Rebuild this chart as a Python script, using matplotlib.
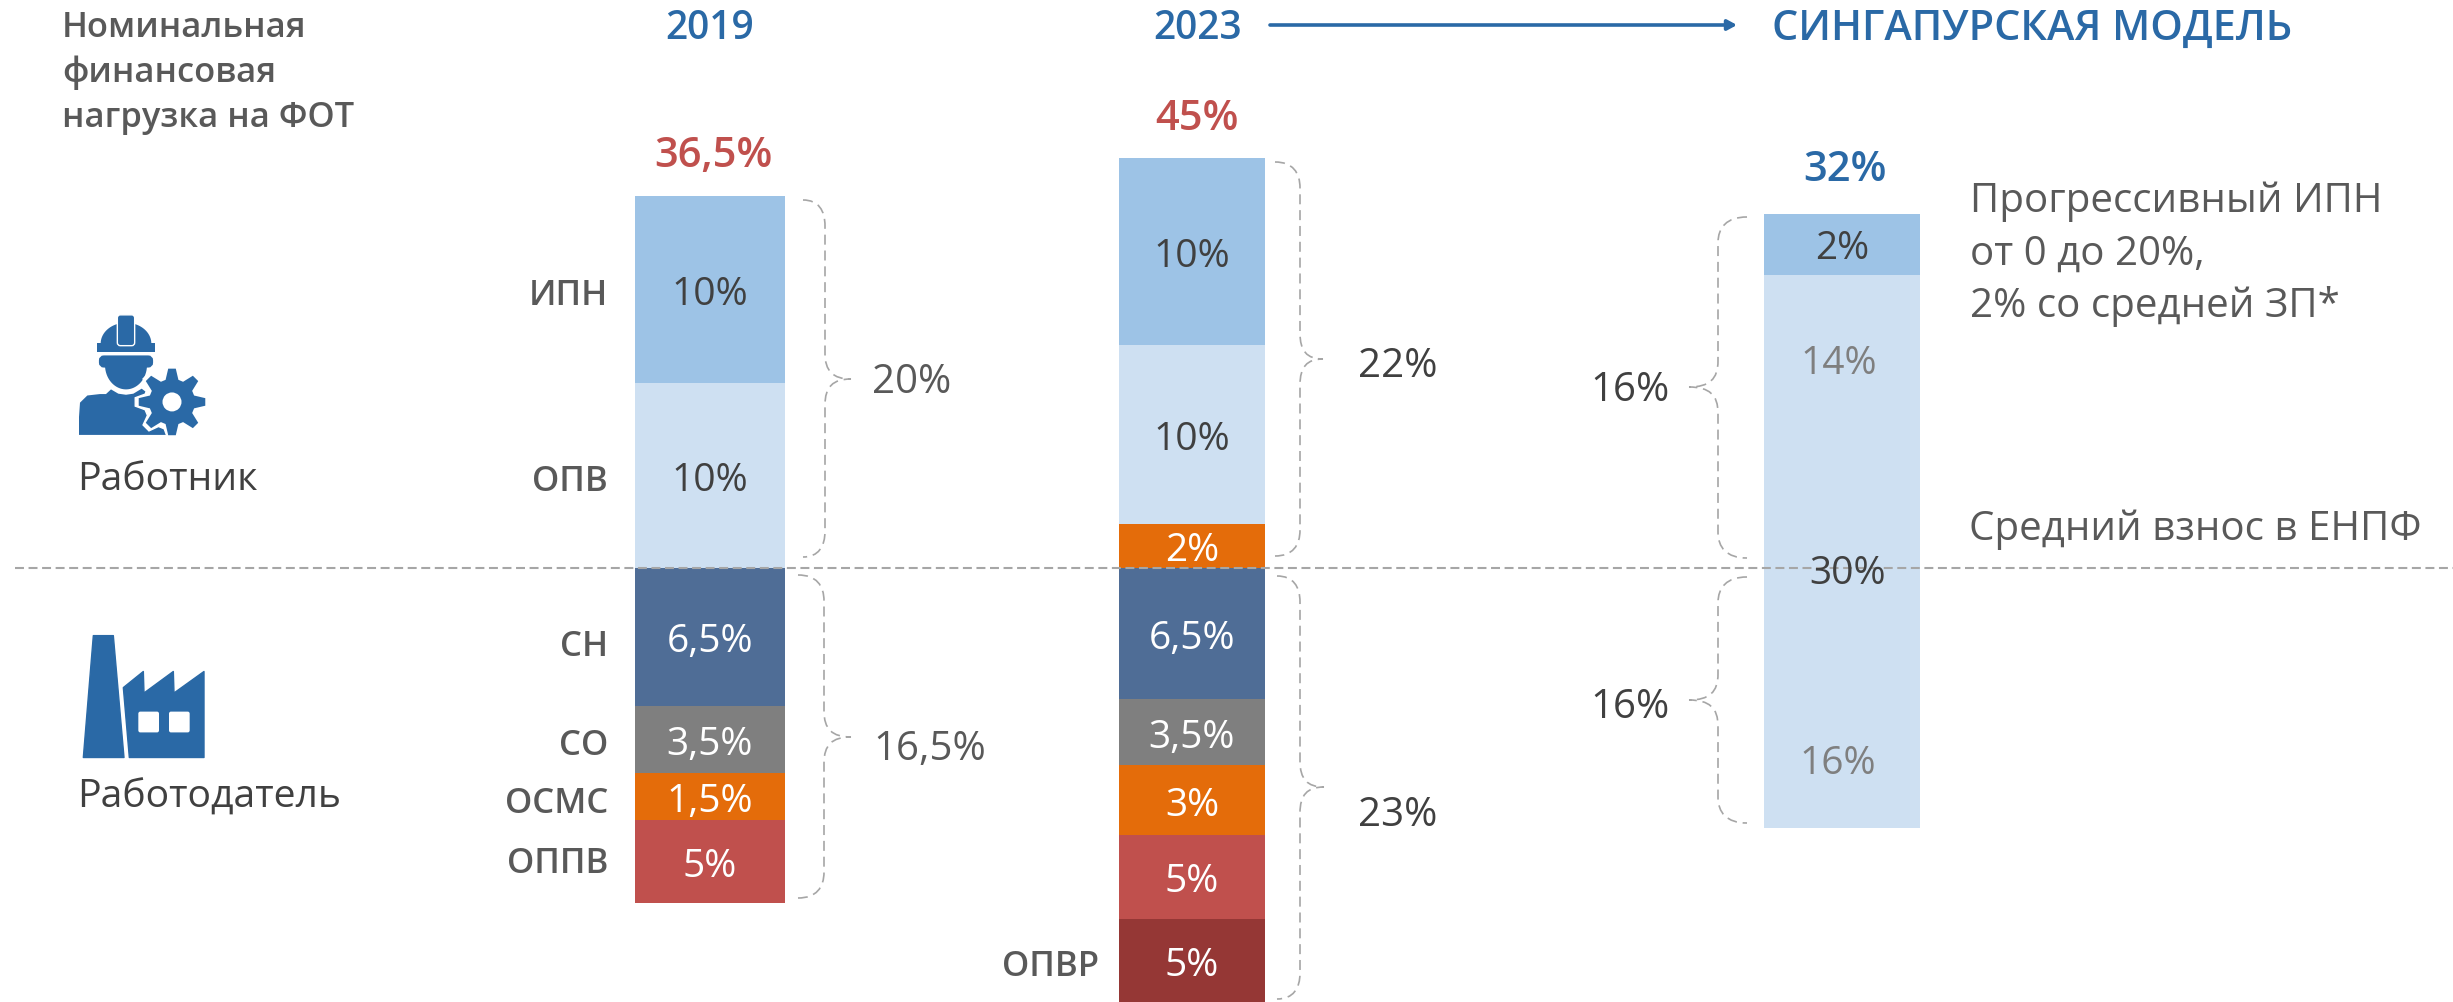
import numpy as np
import matplotlib
matplotlib.use('Agg')
import matplotlib.pyplot as plt
from matplotlib.path import Path
from matplotlib.patches import PathPatch, Polygon, Circle, Rectangle, FancyBboxPatch

plt.rcParams['font.family'] = ['Open Sans', 'DejaVu Sans']

# drawn segment heights, top to bottom (the slide is not to scale, so they differ from the labels)
h_2019 = [10.0, 9.88, 7.4, 3.57, 2.53, 4.42]
h_2023 = [10.0, 9.57, 2.33, 7.03, 3.53, 3.74, 4.49, 4.44]
h_sing = [3.26, 29.57]
# how much of each bar sits above the dashed line
upper_2019 = 10.0 + 9.88
upper_2023 = 10.0 + 9.57 + 2.33
upper_sing = 3.26 + 15.65

lab_2019 = ['10%', '10%', '6,5%', '3,5%', '1,5%', '5%']
lab_2023 = ['10%', '10%', '2%', '6,5%', '3,5%', '3%', '5%', '5%']
names_2019 = ['ИПН', 'ОПВ', 'СН', 'СО', 'ОСМС', 'ОППВ']

LIGHT = '#9DC3E6'
PALE = '#CEE0F2'
NAVY = '#4F6D96'
GREY = '#7F7F7F'
ORANGE = '#E46C0A'
RED = '#C0504D'
DARKRED = '#953735'
BLUE = '#2A69A6'
TXT = '#404040'
TXT2 = '#595959'
DASH = '#A6A6A6'

col_2019 = [LIGHT, PALE, NAVY, GREY, ORANGE, RED]
col_2023 = [LIGHT, PALE, ORANGE, NAVY, GREY, ORANGE, RED, DARKRED]
txt_2019 = [TXT, TXT, 'white', 'white', 'white', 'white']
txt_2023 = [TXT, TXT, 'white', 'white', 'white', 'white', 'white', 'white']

BASE_PX = 568.6
UNIT_PX = 18.7
W, H = 2453, 1003
VAL = 28
SUM = 29
NOTE = 29
HEAD = 28
TOTAL = 30
SIDE = 25

fig = plt.figure(figsize=(W / 100, H / 100), dpi=100)

# bars: y in chart units, 0 at the dashed line
ax = fig.add_axes([0, 0, 1, 1])
ax.set_xlim(0, W)
ax.set_ylim(-(H - BASE_PX) / UNIT_PX, BASE_PX / UNIT_PX)
ax.axis('off')

# everything else: plain pixel coordinates
ov = fig.add_axes([0, 0, 1, 1])
ov.set_xlim(0, W)
ov.set_ylim(H, 0)
ov.axis('off')
ov.patch.set_alpha(0)


def stack(xc, width, heights, colors, upper, labels=None, tcolors=None):
    top = upper
    for i in range(len(heights)):
        ax.bar(xc, heights[i], width=width, bottom=top - heights[i], color=colors[i], linewidth=0, zorder=2)
        if labels:
            ax.text(xc, top - heights[i] / 2 - 0.24, labels[i], color=tcolors[i], fontsize=VAL,
                    ha='center', va='center', zorder=5)
        top -= heights[i]


def brace(x0, xm, xt, y0, yt, y1):
    # curly bracket from (x0,y0) through the tip (xt,yt) to (x0,y1)
    dy = 26
    verts = [(x0, y0), (x0 + (xm - x0) * 0.7, y0), (xm, y0 + dy * 0.4), (xm, y0 + dy),
             (xm, yt - dy), (xm, yt - 8), (xm + (xt - xm) * 0.3, yt), (xt, yt),
             (xm + (xt - xm) * 0.3, yt), (xm, yt + 8), (xm, yt + dy),
             (xm, y1 - dy), (xm, y1 - dy * 0.4), (x0 + (xm - x0) * 0.7, y1), (x0, y1)]
    codes = [Path.MOVETO, Path.CURVE4, Path.CURVE4, Path.CURVE4,
             Path.LINETO, Path.CURVE4, Path.CURVE4, Path.CURVE4,
             Path.CURVE4, Path.CURVE4, Path.CURVE4,
             Path.LINETO, Path.CURVE4, Path.CURVE4, Path.CURVE4]
    ov.add_patch(PathPatch(Path(verts, codes), fill=False, edgecolor=DASH, lw=1.2,
                           linestyle=(0, (6, 3.5)), zorder=3))


def gear(cx, cy, r_out, r_root, n, **kw):
    pts = []
    for i in range(n):
        a = 2 * np.pi * i / n - np.pi / 2
        w = 2 * np.pi / n
        for da, r in [(-0.30, r_root), (-0.12, r_out), (0.12, r_out), (0.30, r_root)]:
            pts.append((cx + r * np.cos(a + da * w * 1.2), cy + r * np.sin(a + da * w * 1.2)))
    return Polygon(pts, closed=True, **kw)


def ix(x):
    return x / 3


def wy(y):
    return 280 + y / 2.79


def worker():
    body = [(237, 435), (237, 385), (240, 345), (262, 325), (300, 321), (318, 321), (333, 308),
            (355, 320), (378, 323), (400, 320), (425, 306), (445, 320), (500, 435)]
    ov.add_patch(Polygon([(ix(x), wy(y)) for x, y in body], closed=True, fc=BLUE, ec='none', zorder=4))
    # face and band
    t = np.linspace(0, np.pi, 40)
    face = [(ix(378 + 63 * np.cos(a)), wy(240 + 68 * np.sin(a))) for a in t]
    ov.add_patch(Polygon(face, closed=True, fc=BLUE, ec='none', zorder=4))
    ov.add_patch(FancyBboxPatch((ix(303), wy(219)), 50, 8, boxstyle='round,pad=0,rounding_size=3',
                                fc=BLUE, ec=BLUE, lw=3, zorder=4))
    # helmet
    t = np.linspace(np.pi, 2 * np.pi, 40)
    dome = [(ix(378 + 76 * np.cos(a)), wy(180 + 58 * np.sin(a))) for a in t]
    ov.add_patch(Polygon(dome, closed=True, fc=BLUE, ec='none', zorder=4))
    ov.add_patch(Rectangle((ix(290), wy(178)), 175 / 3, 25 / 2.79, fc=BLUE, ec='none', zorder=4))
    ov.add_patch(FancyBboxPatch((ix(352), wy(100)), 52 / 3, 86 / 2.79, boxstyle='round,pad=0,rounding_size=3',
                                fc=BLUE, ec='white', lw=1.0, zorder=5))
    # gear with a white halo that cuts into the shoulder
    cx, cy = ix(516), wy(343)
    ov.add_patch(gear(cx, cy, 37, 28, 8, fc='white', ec='white', lw=1, zorder=5))
    ov.add_patch(gear(cx, cy, 33.5, 23, 8, fc=BLUE, ec='none', zorder=6))
    ov.add_patch(Circle((cx, cy), 9.5, fc='white', ec='none', zorder=7))
    ov.add_patch(Rectangle((ix(420), wy(437)), 70, 12, fc='white', ec='none', zorder=7))


def factory():
    chim = [(250, 1335), (280, 995), (340, 995), (372, 1335)]
    ov.add_patch(Polygon([(ix(x), wy(y)) for x, y in chim], closed=True, fc=BLUE, ec=BLUE, lw=1,
                         joinstyle='round', zorder=4))
    bld = [(370, 1140), (430, 1095), (432, 1155), (520, 1095), (522, 1155), (612, 1095), (612, 1335), (388, 1335)]
    ov.add_patch(Polygon([(ix(x), wy(y)) for x, y in bld], closed=True, fc=BLUE, ec=BLUE, lw=1,
                         joinstyle='round', zorder=4))
    for x in [415, 507]:
        ov.add_patch(FancyBboxPatch((ix(x), wy(1207)), 62 / 3, 58 / 2.79, boxstyle='round,pad=0,rounding_size=2',
                                    fc='white', ec='none', zorder=5))


stack(710, 150, h_2019, col_2019, upper_2019, lab_2019, txt_2019)
stack(1192, 146, h_2023, col_2023, upper_2023, lab_2023, txt_2023)
stack(1842, 156, h_sing, [LIGHT, PALE], upper_sing)

# labels of the last bar do not follow its segments
ov.text(1842, 249, '2%', color=TXT, fontsize=VAL, ha='center', va='center', zorder=5)
ov.text(1839, 364, '14%', color=GREY, fontsize=VAL, ha='center', va='center', zorder=5)
ov.text(1848, 574, '30%', color=TXT, fontsize=VAL, ha='center', va='center', zorder=5)
ov.text(1838, 764, '16%', color=GREY, fontsize=VAL, ha='center', va='center', zorder=5)

# dashed split line
ov.plot([15, W], [BASE_PX, BASE_PX], color=DASH, lw=1.5, linestyle=(0, (4.3, 2.2)), zorder=4)

# side names
side_y = [296, 482, 647, 746, 804, 864]
for i in range(len(names_2019)):
    ov.text(608, side_y[i], names_2019[i], color=TXT2, fontsize=SIDE, fontweight=600, ha='right', va='center')
ov.text(1099, 967, 'ОПВР', color=TXT2, fontsize=SIDE, fontweight=600, ha='right', va='center')

# braces and their sums
brace(803, 825, 851, 201, 380, 558)
brace(798, 824, 851, 576, 738, 899)
brace(1275, 1300, 1323, 163, 360, 557)
brace(1277, 1300, 1324, 577, 788, 1000)
brace(1747, 1718, 1689, 218, 388, 559)
brace(1747, 1718, 1689, 578, 701, 824)
ov.text(872, 383, '20%', color=TXT2, fontsize=SUM, va='center')
ov.text(873, 750, '16,5%', color=TXT2, fontsize=SUM, va='center')
ov.text(1358, 367, '22%', color=TXT, fontsize=SUM, va='center')
ov.text(1358, 816, '23%', color=TXT, fontsize=SUM, va='center')
ov.text(1590, 391, '16%', color=TXT, fontsize=SUM, va='center')
ov.text(1590, 708, '16%', color=TXT, fontsize=SUM, va='center')

# header
for s, y in zip(['Номинальная', 'финансовая', 'нагрузка на ФОТ'], [28, 73, 118]):
    ov.text(62, y, s, color=TXT2, fontsize=24.8, fontweight=600, va='center')
ov.text(710, 29, '2019', color=BLUE, fontsize=HEAD, fontweight=600, ha='center', va='center')
ov.text(1198, 29, '2023', color=BLUE, fontsize=HEAD, fontweight=600, ha='center', va='center')
ov.text(1772, 29, 'СИНГАПУРСКАЯ МОДЕЛЬ', color=BLUE, fontsize=29.8, fontweight=600, va='center')
ov.annotate('', xy=(1737, 26), xytext=(1270, 26),
            arrowprops=dict(arrowstyle='-|>,head_width=0.3,head_length=0.55', color=BLUE, lw=2.6, shrinkA=0, shrinkB=0))

# totals
ov.text(713, 156, '36,5%', color=RED, fontsize=TOTAL, fontweight=600, ha='center', va='center')
ov.text(1197, 119, '45%', color=RED, fontsize=TOTAL, fontweight=600, ha='center', va='center')
ov.text(1845, 170, '32%', color=BLUE, fontsize=TOTAL, fontweight=600, ha='center', va='center')

# notes on the right
for s, y in zip(['Прогрессивный ИПН', 'от 0 до 20%,', '2% со средней ЗП*'], [202, 254, 306]):
    ov.text(1970, y, s, color=TXT2, fontsize=NOTE, va='center')
ov.text(1969, 530, 'Средний взнос в ЕНПФ', color=TXT2, fontsize=NOTE, va='center')

# who pays
worker()
factory()
ov.text(77, 480, 'Работник', color=TXT, fontsize=28.2, va='center')
ov.text(77, 798, 'Работодатель', color=TXT, fontsize=28.2, va='center')

fig.savefig('out.png', dpi=100)
